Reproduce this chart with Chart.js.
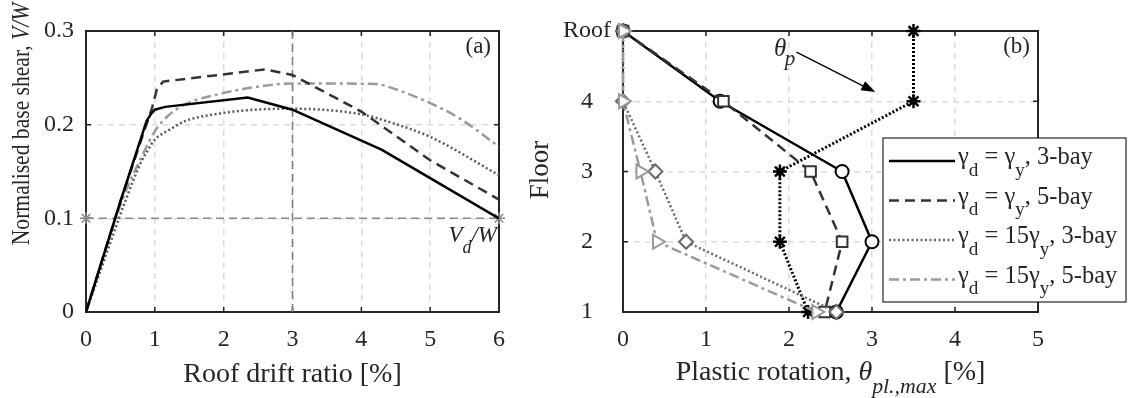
<!DOCTYPE html>
<html>
<head>
<meta charset="utf-8">
<script src="https://cdn.jsdelivr.net/npm/chart.js@4.4.0/dist/chart.umd.min.js"></script>
<style>
  body { margin: 0; background: #fff; }
  #wrap { position: relative; width: 1128px; height: 398px; }
  canvas { position: absolute; top: 0; }
  #chartA { left: 0; }
  #chartB { left: 560px; }
</style>
</head>
<body>
<div id="wrap">
  <canvas id="chartA" width="560" height="398"></canvas>
  <canvas id="chartB" width="568" height="398"></canvas>
</div>
<script>
// (a) pushover curves: roof drift [%] vs V/W
const driftSolid = [0, 0.5, 0.88, 0.95, 1.0, 1.15, 2.35, 3.0, 4.3, 5.0, 6.0];
const shearSolid = [0, 0.118, 0.204, 0.212, 0.216, 0.219, 0.229, 0.216, 0.173, 0.143, 0.1];
const driftDashed = [0, 0.5, 0.9, 0.96, 1.03, 1.12, 2.6, 3.0, 4.0, 5.0, 6.0];
const shearDashed = [0, 0.118, 0.205, 0.218, 0.238, 0.246, 0.259, 0.253, 0.214, 0.162, 0.12];
const driftDotted = [0, 0.58, 0.8, 0.9, 1.0, 1.2, 1.45, 1.95, 2.45, 3.0, 4.0, 4.4, 5.0, 6.0];
const shearDotted = [0, 0.12, 0.16, 0.173, 0.184, 0.194, 0.204, 0.212, 0.216, 0.217, 0.211, 0.203, 0.187, 0.146];
const driftDashDot = [0, 0.53, 0.85, 1.0, 1.2, 1.45, 1.95, 2.45, 3.0, 4.2, 4.45, 5.0, 5.4, 6.0];
const shearDashDot = [0, 0.12, 0.172, 0.193, 0.21, 0.222, 0.233, 0.24, 0.244, 0.2435, 0.239, 0.223, 0.208, 0.1765];
const designShear = 0.1;   // Vd/W
const targetDrift = 3;
const shearTickLabels = ['0', '0.1', '0.2', '0.3'];

// (b) max plastic rotation [%] per floor (5 = Roof)
const floors = [5, 4, 3, 2, 1];
const rotSolid = [0, 1.17, 2.64, 3.0, 2.57];
const rotDashed = [0, 1.21, 2.26, 2.64, 2.43];
const rotDotted = [0, 0, 0.39, 0.76, 2.57];
const rotDashDot = [0, 0, 0.21, 0.41, 2.33];
const thetaP = [3.5, 3.5, 1.89, 1.89, 2.23];
const floorTickLabels = ['1', '2', '3', '4', 'Roof'];

const FONT = '"Liberation Serif", "Times New Roman", serif';
const INK = '#262626';

const pts = (xs, ys) => xs.map((x, i) => ({ x: x, y: ys[i] }));

// text with italic / subscript parts: [[text, 'i'|'s'|'is'|''], ...]
function drawRich(ctx, parts, x, y, size, align, angle, stretch) {
  ctx.save();
  ctx.translate(x, y);
  if (angle) ctx.rotate(angle);
  if (stretch) ctx.scale(stretch, 1);
  ctx.fillStyle = INK;
  ctx.textAlign = 'left';
  ctx.textBaseline = 'alphabetic';
  const font = st => (st.includes('i') ? 'italic ' : '') + (st.includes('s') ? size * 0.78 : size) + 'px ' + FONT;
  const widths = parts.map(p => { ctx.font = font(p[1] || ''); return ctx.measureText(p[0]).width; });
  const total = widths.reduce((a, b) => a + b, 0);
  let cx = align === 'center' ? -total / 2 : (align === 'right' ? -total : 0);
  parts.forEach((p, i) => {
    const st = p[1] || '';
    ctx.font = font(st);
    ctx.fillText(p[0], cx, st.includes('s') ? size * 0.48 : 0);
    cx += widths[i];
  });
  ctx.restore();
}

// box round the plot and inward tick marks
const frame = {
  id: 'frame',
  beforeDatasetsDraw(chart) {
    const { ctx, chartArea: a, scales } = chart;
    ctx.save();
    ctx.strokeStyle = INK;
    ctx.lineWidth = 2;
    ctx.strokeRect(a.left, a.top, a.right - a.left, a.bottom - a.top);
    ctx.lineWidth = 1.5;
    ctx.beginPath();
    scales.x.ticks.forEach(t => {
      const px = scales.x.getPixelForValue(t.value);
      ctx.moveTo(px, a.bottom); ctx.lineTo(px, a.bottom - 5);
      ctx.moveTo(px, a.top); ctx.lineTo(px, a.top + 5);
    });
    scales.y.ticks.forEach(t => {
      const py = scales.y.getPixelForValue(t.value);
      ctx.moveTo(a.left, py); ctx.lineTo(a.left + 5, py);
      ctx.moveTo(a.right, py); ctx.lineTo(a.right - 5, py);
    });
    ctx.stroke();
    ctx.restore();
  }
};

function axes(xMax, yMin, yMax, step, yWidth, align, yLabel) {
  return {
    x: {
      type: 'linear', min: 0, max: xMax,
      afterFit: s => { s.height = 86; },
      grid: { color: '#dcdcdc', lineWidth: 1.5, drawTicks: false },
      border: { display: false, dash: [6, 5] },
      ticks: { stepSize: 1, padding: 13, color: INK, font: { family: FONT, size: 24 } }
    },
    y: {
      type: 'linear', min: yMin, max: yMax,
      afterFit: s => { s.width = yWidth; },
      grid: { color: '#dcdcdc', lineWidth: 1.5, drawTicks: false },
      border: { display: false, dash: [6, 5] },
      ticks: {
        stepSize: step, padding: 12, crossAlign: align, color: INK,
        font: { family: FONT, size: 24 }, callback: yLabel
      }
    }
  };
}

const labelsA = {
  id: 'labelsA',
  afterDraw(chart) {
    const { ctx, chartArea: a, scales } = chart;
    drawRich(ctx, [['Roof drift ratio [%]']], (a.left + a.right) / 2, 382, 28, 'center');
    drawRich(ctx, [['Normalised base shear, '], ['V/W', 'i']], 29, 124, 26, 'center', -Math.PI / 2, 0.83);
    drawRich(ctx, [['(a)']], a.right - 8, a.top + 22, 23, 'right');
    const vx = scales.x.getPixelForValue(6), vy = scales.y.getPixelForValue(designShear);
    drawRich(ctx, [['V', 'i'], ['d', 'is'], ['/W', 'i']], vx - 2, vy + 24, 23, 'right');
    // y title of panel (b) sits left of its canvas
    drawRich(ctx, [['Floor']], 548, 170, 27, 'center', -Math.PI / 2);
  }
};

const labelsB = {
  id: 'labelsB',
  afterDraw(chart) {
    const { ctx, chartArea: a, scales } = chart;
    drawRich(ctx, [['Plastic rotation, '], ['\u03b8', 'i'], ['pl.,max', 'is'], [' [%]']], (a.left + a.right) / 2, 380, 28, 'center');
    drawRich(ctx, [['(b)']], a.right - 8, a.top + 22, 23, 'right');

    // theta_p annotation with arrow
    const sx = v => scales.x.getPixelForValue(v), sy = v => scales.y.getPixelForValue(v);
    drawRich(ctx, [['\u03b8', 'i']], sx(1.82), sy(4.65), 25, 'left');
    drawRich(ctx, [['p', 'i']], sx(1.95), sy(4.52), 21, 'left');
    const x0 = sx(2.09), y0 = sy(4.70), x1 = sx(3.04), y1 = sy(4.13);
    const ang = Math.atan2(y1 - y0, x1 - x0);
    ctx.save();
    ctx.strokeStyle = '#000'; ctx.fillStyle = '#000'; ctx.lineWidth = 1.3;
    ctx.beginPath(); ctx.moveTo(x0, y0); ctx.lineTo(x1 - 10 * Math.cos(ang), y1 - 10 * Math.sin(ang)); ctx.stroke();
    ctx.beginPath();
    ctx.moveTo(x1, y1);
    ctx.lineTo(x1 - 14 * Math.cos(ang) + 5 * Math.sin(ang), y1 - 14 * Math.sin(ang) - 5 * Math.cos(ang));
    ctx.lineTo(x1 - 14 * Math.cos(ang) - 5 * Math.sin(ang), y1 - 14 * Math.sin(ang) + 5 * Math.cos(ang));
    ctx.closePath(); ctx.fill();
    ctx.restore();

    // legend box
    const bx = 323, by = 138, bw = 243, bh = 164;
    ctx.save();
    ctx.fillStyle = '#fff'; ctx.fillRect(bx, by, bw, bh);
    ctx.strokeStyle = INK; ctx.lineWidth = 1.2; ctx.strokeRect(bx, by, bw, bh);
    const names = [
      [['\u03b3'], ['d', 's'], [' = \u03b3'], ['y', 's'], [', 3-bay']],
      [['\u03b3'], ['d', 's'], [' = \u03b3'], ['y', 's'], [', 5-bay']],
      [['\u03b3'], ['d', 's'], [' = 15\u03b3'], ['y', 's'], [', 3-bay']],
      [['\u03b3'], ['d', 's'], [' = 15\u03b3'], ['y', 's'], [', 5-bay']]
    ];
    chart.data.datasets.slice(0, 4).forEach((ds, i) => {
      const ly = by + 23 + i * 39.5;
      ctx.strokeStyle = ds.borderColor; ctx.lineWidth = ds.borderWidth;
      ctx.setLineDash(ds.borderDash || []);
      ctx.beginPath(); ctx.moveTo(bx + 6, ly); ctx.lineTo(bx + 72, ly); ctx.stroke();
      ctx.setLineDash([]);
      drawRich(ctx, names[i], bx + 75, ly + 3, 24.5, 'left');
    });
    ctx.restore();
  }
};

const curve = (xs, ys, color, dash, smooth) => ({
  data: pts(xs, ys), showLine: true, borderColor: color, borderWidth: 2.5,
  borderDash: dash, pointRadius: 0, cubicInterpolationMode: smooth ? 'monotone' : 'default'
});

new Chart(document.getElementById('chartA'), {
  type: 'scatter',
  data: {
    datasets: [
      curve(driftSolid, shearSolid, '#000000', [], false),
      curve(driftDashed, shearDashed, '#333333', [10, 6], false),
      curve(driftDotted, shearDotted, '#5a5a5a', [2, 2.5], true),
      curve(driftDashDot, shearDashDot, '#9a9a9a', [10, 4, 3, 4], true),
      {
        data: pts([0, 6], [designShear, designShear]), showLine: true, borderColor: '#8a8a8a',
        borderWidth: 1.5, borderDash: [8, 5], pointStyle: 'star', pointRadius: 6,
        pointBorderColor: '#8a8a8a', pointBorderWidth: 1.5, clip: false, order: 6
      },
      {
        data: pts([targetDrift, targetDrift], [0, 0.3]), showLine: true, borderColor: '#7a7a7a',
        borderWidth: 1.5, borderDash: [8, 5], pointRadius: 0, order: 7
      }
    ]
  },
  options: {
    responsive: false, animation: false,
    layout: { padding: { left: 0, top: 31, right: 61, bottom: 0 } },
    plugins: { legend: { display: false }, tooltip: { enabled: false } },
    scales: axes(6, 0, 0.3, 0.1, 86, 'near', (v, i) => shearTickLabels[i])
  },
  plugins: [frame, labelsA]
});

const marked = (xs, color, dash, style, rot, r, order) => ({
  data: pts(xs, floors), showLine: true, borderColor: color, borderWidth: 2.5, borderDash: dash,
  pointStyle: style, pointRotation: rot, pointRadius: r, pointBorderColor: color,
  pointBackgroundColor: '#fff', pointBorderWidth: 2, clip: false, order: order
});

new Chart(document.getElementById('chartB'), {
  type: 'scatter',
  data: {
    datasets: [
      marked(rotSolid, '#000000', [], 'circle', 0, 6.5, 4),
      marked(rotDashed, '#333333', [10, 6], 'rect', 0, 7.5, 3),
      marked(rotDotted, '#6a6a6a', [2, 2.5], 'rectRot', 0, 7, 2),
      marked(rotDashDot, '#9a9a9a', [10, 4, 3, 4], 'triangle', 90, 8, 1),
      {
        data: pts(thetaP, floors), showLine: true, borderColor: '#000', borderWidth: 3,
        borderDash: [2, 2], pointStyle: 'star', pointRadius: 7, pointBorderColor: '#000',
        pointBorderWidth: 2.5, clip: false, order: 5
      }
    ]
  },
  options: {
    responsive: false, animation: false,
    layout: { padding: { left: 0, top: 31, right: 90, bottom: 0 } },
    plugins: { legend: { display: false }, tooltip: { enabled: false } },
    scales: axes(5, 1, 5, 1, 63, 'center', (v, i) => floorTickLabels[i])
  },
  plugins: [frame, labelsB]
});
</script>
</body>
</html>
